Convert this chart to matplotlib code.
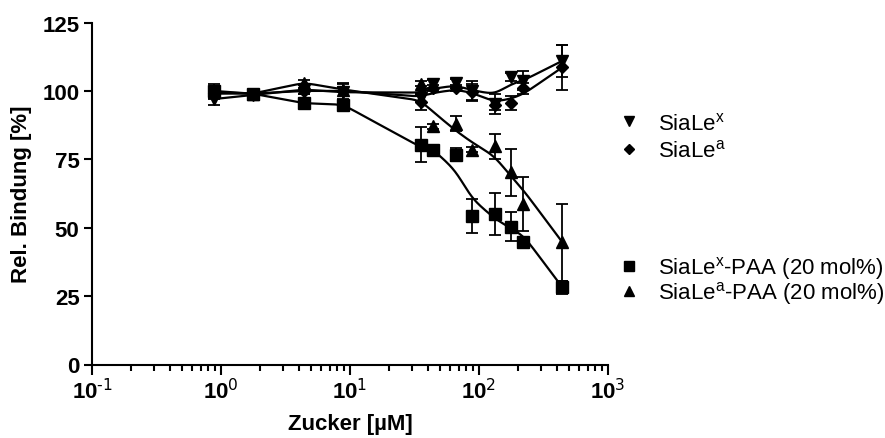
import numpy as np
import matplotlib
matplotlib.use("Agg")
import matplotlib.pyplot as plt
from matplotlib.lines import Line2D
from matplotlib.ticker import FuncFormatter, LogLocator, FixedLocator

plt.rcParams['font.family'] = ['Liberation Sans', 'DejaVu Sans']
plt.rcParams['mathtext.default'] = 'regular'

# ---- data ----
conc = [0.88, 1.76, 4.4, 8.8, 35.2, 44, 66, 88, 132, 176, 220, 440]

sialex = [97, 98.5, 100.5, 99.5, 97.3, 102.5, 103, 100, 95.2, 105, 103.7, 111]
sialex_err = [2, 1, 1.5, 3, 1.5, 1.5, 1.5, 3.7, 3.5, 1.5, 3.4, 5.8]

sialea = [99, 99, 100, 100, 95.9, 101, 101, 99.5, 95, 95.6, 101, 108.6]
sialea_err = [2, 1, 1, 3, 2.9, 1, 1, 3, 2, 2.4, 2, 8.3]

sialex_paa = [100, 99, 95.5, 95, 80.3, 78.3, 76.7, 54.4, 55, 50.4, 44.9, 28.2]
sialex_paa_err = [2.5, 1, 1, 1, 6.4, 1, 2.5, 6.2, 7.8, 5.2, 1.5, 2.5]

sialea_paa = [99.5, 99, 103, 100.5, 102.7, 87, 88, 78.5, 79.7, 70.2, 58.7, 44.7]
sialea_paa_err = [2, 1, 1, 1, 1, 1, 2.8, 1, 4.6, 8.6, 9.9, 14]

labels = ['SiaLe$^{x}$', 'SiaLe$^{a}$',
          'SiaLe$^{x}$-PAA (20 mol%)', 'SiaLe$^{a}$-PAA (20 mol%)']


def smooth_curve(x, y, sigma=0.1, sigma2=0.045, n=600):
    """Kernel-smoothed nodes, joined linearly in log10(x), then lightly rounded."""
    lx = np.log10(np.asarray(x, float))
    ys = np.asarray(y, float)
    d = lx[:, None] - lx[None, :]
    w = np.exp(-0.5 * (d / sigma) ** 2)
    s = (w @ ys) / w.sum(axis=1)
    xs = np.linspace(lx[0], lx[-1], n)
    lin = np.interp(xs, lx, s)
    dd = xs[:, None] - xs[None, :]
    k = np.exp(-0.5 * (dd / sigma2) ** 2)
    # local-linear smoothing keeps the ends on their trend
    sw = k.sum(1)
    mx = (k @ xs) / sw
    my = (k @ lin) / sw
    cov = (k @ (xs * lin)) / sw - mx * my
    var = (k @ (xs * xs)) / sw - mx * mx
    out = my + cov / var * (xs - mx)
    return 10 ** xs, out


W, H = 885, 439
fig = plt.figure(figsize=(W / 100, H / 100), dpi=100)
x0, x1, ytop, ybot = 92, 608, 23.5, 365.5
ax = fig.add_axes([x0 / W, 1 - ybot / H, (x1 - x0) / W, (ybot - ytop) / H])

series = [
    (sialex, sialex_err, 'v', 9),
    (sialea, sialea_err, 'D', 6.5),
    (sialex_paa, sialex_paa_err, 's', 9),
    (sialea_paa, sialea_paa_err, '^', 9),
]

for ys, es, m, ms in series:
    cx, cy = smooth_curve(conc, ys)
    ax.plot(cx, cy, color='black', lw=1.6, zorder=2)
    ax.errorbar(conc, ys, yerr=es, fmt=m, color='black', ms=ms, ecolor='black',
                elinewidth=1.3, capsize=4, capthick=1.3, zorder=3)

ax.set_xscale('log')
ax.set_xlim(0.1, 1000)
ax.set_ylim(0, 125)
ax.set_yticks([0, 25, 50, 75, 100, 125])
ax.xaxis.set_major_locator(FixedLocator([0.1, 1, 10, 100, 1000]))
ax.xaxis.set_minor_locator(LogLocator(base=10, subs=np.arange(2, 10), numticks=20))
ax.xaxis.set_major_formatter(
    FuncFormatter(lambda v, p: r'$10^{\text{%d}}$' % int(round(np.log10(v)))))

for s in ['top', 'right']:
    ax.spines[s].set_visible(False)
for s in ['left', 'bottom']:
    ax.spines[s].set_linewidth(1.5)

ax.tick_params(axis='y', which='major', direction='out', length=6, width=1.5, pad=3,
               labelsize=16)
ax.tick_params(axis='x', which='major', direction='out', length=7, width=1.5, pad=3,
               labelsize=16)
ax.tick_params(axis='x', which='minor', direction='out', length=4.5, width=1.5)
for lab in ax.get_xticklabels() + ax.get_yticklabels():
    lab.set_fontweight('bold')

ax.set_xlabel('Zucker [µM]', fontsize=16, fontweight='bold', va='center')
ax.xaxis.set_label_coords(0.5, (ybot - 425) / (ybot - ytop))
ax.set_ylabel('Rel. Bindung [%]', fontsize=16, fontweight='bold', va='center')
ax.yaxis.set_label_coords((22 - x0) / (x1 - x0), 0.5)

markers = ['v', 'D', 's', '^']
msizes = [7, 5, 7, 7]
handles = [Line2D([], [], color='black', marker=m, ls='none', ms=s)
           for m, s in zip(markers, msizes)]

fs = 16
leg1 = fig.legend(handles[:2], labels[:2], loc='center left',
                  bbox_to_anchor=(618 / W, 1 - 138 / H), frameon=False,
                  fontsize=fs, handlelength=1.0, handletextpad=0.8,
                  labelspacing=0.25, borderpad=0, borderaxespad=0)
leg2 = fig.legend(handles[2:], labels[2:], loc='center left',
                  bbox_to_anchor=(618 / W, 1 - 281 / H), frameon=False,
                  fontsize=fs, handlelength=1.0, handletextpad=0.8,
                  labelspacing=-0.1, borderpad=0, borderaxespad=0)

fig.savefig('out.png', dpi=100)
